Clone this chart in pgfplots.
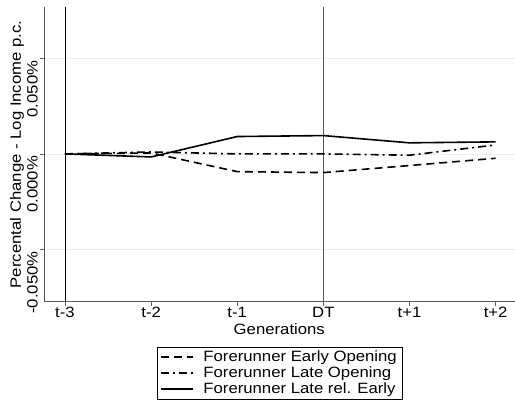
\documentclass[border=0pt]{standalone}
\usepackage{pgfplots}
\pgfplotsset{compat=1.18}
\usepackage{fontspec}
\setmainfont[FakeStretch=1.12]{Liberation Sans}
\definecolor{gridc}{RGB}{232,238,238}
\definecolor{axc}{RGB}{90,90,90}
\begin{document}
\begin{tikzpicture}
\begin{axis}[
  scale only axis,
  width=471bp, height=295bp,
  xmin=-0.244, xmax=5.22,
  ymin=-0.0775, ymax=0.077,
  scaled y ticks=false,
  axis x line*=bottom, axis y line*=left,
  axis line style={axc, line width=0.8bp, -},
  xtick={0,1,2,3,4,5},
  xticklabels={t-3,t-2,t-1,DT,t+1,t+2},
  ytick={-0.05,0,0.05},
  yticklabels={-0.050\%,0.000\%,0.050\%},
  yticklabel style={rotate=90, anchor=south east, inner sep=2bp},
  xticklabel style={inner sep=1.5bp},
  tick style={axc, line width=0.6bp},
  tick align=outside,
  major tick length=4bp,
  ymajorgrids, grid style={gridc, line width=0.6bp},
  tick label style={font=\fontsize{15}{15}\selectfont},
  label style={font=\fontsize{15}{15}\selectfont},
  xlabel={Generations},
  ylabel={Percental Change - Log Income p.c.},
  xlabel style={at={(axis description cs:0.5,-0.093)}, anchor=center, inner sep=0pt},
  ylabel style={at={(axis description cs:-0.0573,0.5)}, anchor=center, inner sep=0pt},
  clip=false,
  legend style={at={(0.5,-0.153)}, anchor=north, draw=black,
    font=\fontsize{15}{15}\selectfont, inner xsep=3bp, inner ysep=2bp, row sep=0bp,
    nodes={text height=11.5bp, text depth=3.5bp, inner ysep=0.5bp},
    /tikz/every odd column/.append style={column sep=8bp}},
  legend cell align=left,
  legend image code/.code={\draw[#1, line width=1.7bp] (0bp,0bp) -- (32bp,0bp);},
]
\addplot[forget plot, black, line width=0.8bp] coordinates {(0,-0.0775) (0,0.077)};
\addplot[forget plot, axc, line width=0.8bp] coordinates {(3,-0.0775) (3,0.077)};
\addplot[black, line width=1.6bp, dash pattern=on 8bp off 5bp] coordinates {
 (0,0) (1,0.0005) (2,-0.0093) (3,-0.0098) (4,-0.0061) (5,-0.0023)};
\addlegendentry{Forerunner Early Opening}
\addplot[black, line width=1.6bp, dash pattern=on 8bp off 4bp on 2bp off 4bp] coordinates {
 (0,0) (1,0.0010) (2,0) (3,0) (4,-0.0007) (5,0.0047)};
\addlegendentry{Forerunner Late Opening}
\addplot[black, line width=1.6bp] coordinates {
 (0,0) (1,-0.0016) (2,0.0091) (3,0.0096) (4,0.0058) (5,0.0063)};
\addlegendentry{Forerunner Late rel. Early}
\end{axis}
\path (current axis.south west) ++(-44bp,-100bp);
\path (current axis.north east) ++(0,7bp);
\end{tikzpicture}
\end{document}
